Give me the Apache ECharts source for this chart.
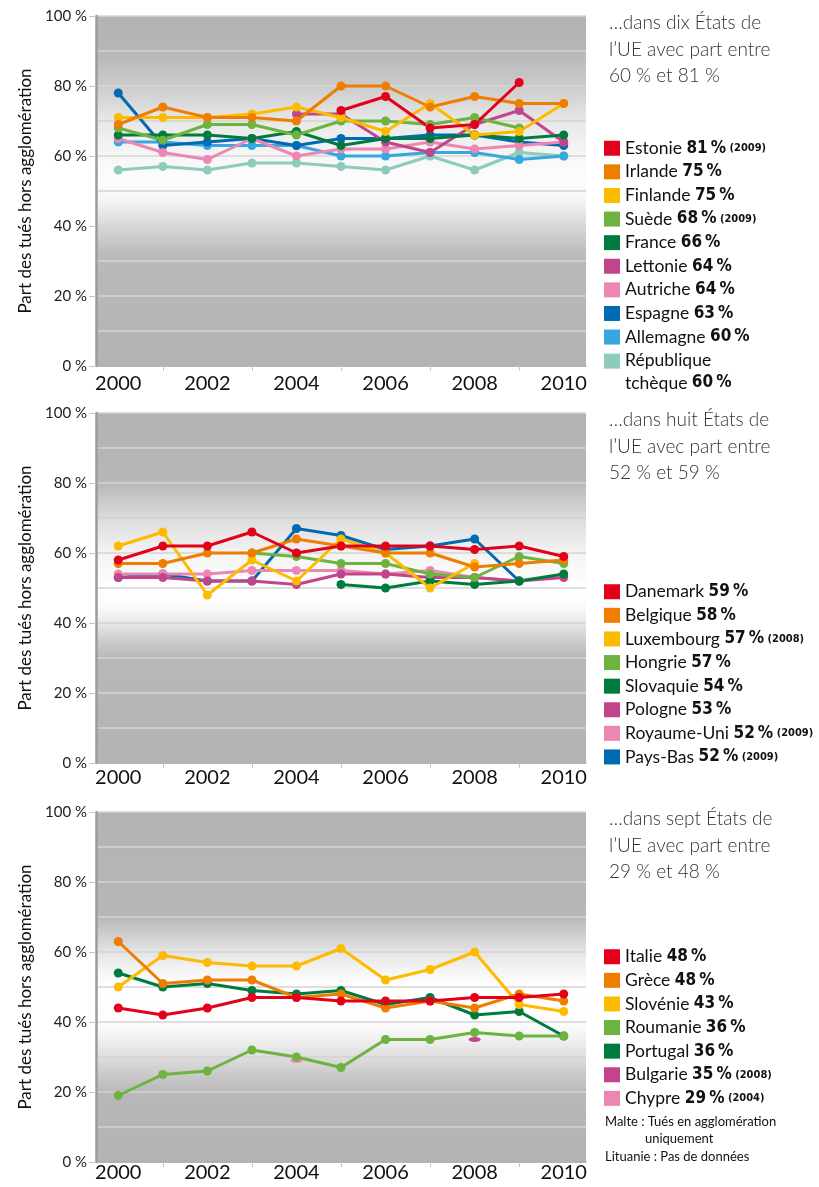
<!DOCTYPE html>
<html>
<head>
<meta charset="utf-8">
<script src="https://cdn.jsdelivr.net/npm/echarts@6/dist/echarts.min.js"></script>
<style>
  html, body { margin: 0; padding: 0; background: #fff; }
  #main { width: 819px; height: 1187px; }
</style>
</head>
<body>
<div id="main"></div>
<script>
const years = ['2000', '2001', '2002', '2003', '2004', '2005', '2006', '2007', '2008', '2009', '2010']

// panneau 1 : part entre 60 % et 81 %
const p1Names = ['Estonie', 'Irlande', 'Finlande', 'Suède', 'France', 'Lettonie', 'Autriche', 'Espagne', 'Allemagne', 'République tchèque']
const p1Values = ['81 %', '75 %', '75 %', '68 %', '66 %', '64 %', '64 %', '63 %', '60 %', '60 %']
const p1Notes = ['(2009)', '', '', '(2009)', '', '', '', '', '', '']
const estonie = [null, null, null, null, null, 73, 77, 68, 69, 81, null]
const irlande = [69, 74, 71, 71, 70, 80, 80, 74, 77, 75, 75]
const finlande = [71, 71, 71, 72, 74, 71, 67, 75, 66, 67, 75]
const suede = [68, 64.5, 69, 69, 66, 70, 70, 69, 71, 68, null]
const france = [66, 66, 66, 65, 67, 63, 65, 65, 66, 65, 66]
const lettonie = [null, null, null, null, 72, 72, 64, 61, 69, 73, 64]
const autriche = [65, 61, 59, 65, 60, 62, 62, 64, 62, 63, 64]
const espagne = [78, 63, 64, 65, 63, 65, 65, 66, 66, 64, 63]
const allemagne = [64, 64, 63, 63, 63, 60, 60, 61, 61, 59, 60]
const tcheque = [56, 57, 56, 58, 58, 57, 56, 60, 56, 61, 60]

// panneau 2 : part entre 52 % et 59 %
const p2Names = ['Danemark', 'Belgique', 'Luxembourg', 'Hongrie', 'Slovaquie', 'Pologne', 'Royaume-Uni', 'Pays-Bas']
const p2Values = ['59 %', '58 %', '57 %', '57 %', '54 %', '53 %', '52 %', '52 %']
const p2Notes = ['', '', '(2008)', '', '', '', '(2009)', '(2009)']
const danemark = [58, 62, 62, 66, 60, 62, 62, 62, 61, 62, 59]
const belgique = [57, 57, 60, 60, 64, 62, 60, 60, 56, 57, 58]
const luxembourg = [62, 66, 48, 58, 52, 64, 60, 50, 57, null, null]
const hongrie = [null, null, null, 60, 59, 57, 57, 54, 53, 59, 57]
const slovaquie = [null, null, null, null, null, 51, 50, 52, 51, 52, 54]
const pologne = [53, 53, 52, 52, 51, 54, 54, 53, 53, 52, 53]
const royaumeUni = [54, 54, 54, 55, 55, 55, 54, 55, 53, 52, null]
const paysBas = [53, 54, 52, 52, 67, 65, 61, 62, 64, 52, null]

// panneau 3 : part entre 29 % et 48 %
const p3Names = ['Italie', 'Grèce', 'Slovénie', 'Roumanie', 'Portugal', 'Bulgarie', 'Chypre']
const p3Values = ['48 %', '48 %', '43 %', '36 %', '36 %', '35 %', '29 %']
const p3Notes = ['', '', '', '', '', '(2008)', '(2004)']
const italie = [44, 42, 44, 47, 47, 46, 46, 46, 47, 47, 48]
const grece = [63, 51, 52, 52, 47, 48, 44, 46, 44, 48, 46]
const slovenie = [50, 59, 57, 56, 56, 61, 52, 55, 60, 45, 43]
const roumanie = [19, 25, 26, 32, 30, 27, 35, 35, 37, 36, 36]
const portugal = [54, 50, 51, 49, 48, 49, 45, 47, 42, 43, 36]
const bulgarie = [null, null, null, null, null, null, null, null, 35, null, null]
const chypre = [null, null, null, null, 29, null, null, null, null, null, null]

const p1Data = [estonie, irlande, finlande, suede, france, lettonie, autriche, espagne, allemagne, tcheque]
const p2Data = [danemark, belgique, luxembourg, hongrie, slovaquie, pologne, royaumeUni, paysBas]
const p3Data = [italie, grece, slovenie, roumanie, portugal, bulgarie, chypre]

const p1Colors = ['#e3001b', '#ef7d00', '#fdbb00', '#6cb33f', '#007b3e', '#c2448b', '#ec87b4', '#006ab3', '#35a8e0', '#8dcbbd']
const p2Colors = ['#e3001b', '#ef7d00', '#fdbb00', '#6cb33f', '#007b3e', '#c2448b', '#ec87b4', '#006ab3']
const p3Colors = ['#e3001b', '#ef7d00', '#fdbb00', '#6cb33f', '#007b3e', '#c2448b', '#ec87b4']

const titles = [
    '…dans dix États de\nl’UE avec part entre\n60 % et 81 %',
    '…dans huit États de\nl’UE avec part entre\n52 % et 59 %',
    '…dans sept États de\nl’UE avec part entre\n29 % et 48 %'
]

const FONT = 'Lato, "Noto Sans", sans-serif'
const NARROW = '"Liberation Sans Narrow", "DejaVu Sans Condensed", sans-serif'

const gridTops = [16, 413, 812]
const labelMargins = [8, 5, 1]

// fond gris / blanc : niveau de gris selon la hauteur (0 = haut du panneau)
const bgStops = [
    [[0, 179], [0.1, 182], [0.2, 203], [0.3, 232], [0.4, 246], [0.47, 253], [0.53, 244], [0.6, 216], [0.68, 186], [1, 179]],
    [[0, 179], [0.2, 183], [0.3, 220], [0.4, 243], [0.5, 255], [0.55, 252], [0.6, 232], [0.65, 205], [0.7, 184], [1, 179]],
    [[0, 179], [0.3, 183], [0.4, 228], [0.45, 244], [0.5, 255], [0.6, 253], [0.65, 240], [0.7, 222], [0.75, 202], [0.8, 184], [1, 179]]
]

const panels = [
    { names: p1Names, values: p1Values, notes: p1Notes, data: p1Data, colors: p1Colors },
    { names: p2Names, values: p2Values, notes: p2Notes, data: p2Data, colors: p2Colors },
    { names: p3Names, values: p3Values, notes: p3Notes, data: p3Data, colors: p3Colors }
]

const legendText = {}
panels.forEach(p => {
    p.names.forEach((n, i) => {
        const tail = '{b|' + p.values[i].replace(' ', '\u2009') + '}' + (p.notes[i] ? '{s| ' + p.notes[i] + '}' : '')
        if (n === 'République tchèque') {
            // deux lignes, le carré reste en face de la première
            legendText[n] = '{n1|République}\n{n2|tchèque }' + tail.replace('{b|', '{b2|')
        } else {
            legendText[n] = '{n|' + n + ' }' + tail
        }
    })
})

const grid = [], xAxis = [], yAxis = [], series = [], legend = []
const legendTops = [137.5, 581, 946]

panels.forEach((p, k) => {
    grid.push({
        left: 96, top: gridTops[k], width: 490, height: 350,
        show: true, borderWidth: 0,
        backgroundColor: {
            type: 'linear', x: 0, y: 0, x2: 0, y2: 1,
            colorStops: bgStops[k].map(s => ({ offset: s[0], color: 'rgb(' + s[1] + ',' + s[1] + ',' + s[1] + ')' }))
        }
    })
    xAxis.push({
        type: 'category', gridIndex: k, data: years, boundaryGap: true,
        axisLine: { lineStyle: { color: '#a8a8a8', width: 1.5 } },
        axisTick: { show: true, alignWithLabel: true, length: 5, interval: (i) => i % 2 === 1, lineStyle: { color: '#c8c8c8' } },
        axisLabel: { interval: 1, fontSize: 20, color: '#111', fontFamily: FONT, margin: labelMargins[k] },
        splitLine: { show: false }
    })
    yAxis.push({
        type: 'value', gridIndex: k, min: 0, max: 100, interval: 20,
        name: 'Part des tués hors agglomération', nameLocation: 'middle', nameGap: 60,
        nameTextStyle: { fontSize: 17, color: '#111', fontFamily: FONT },
        axisLine: { show: true, lineStyle: { color: '#9c9c9c', width: 2.5 } },
        axisTick: { show: true, length: 7, lineStyle: { color: '#c4c4c4' } },
        axisLabel: { fontSize: 15, color: '#222', fontFamily: FONT, margin: 9, formatter: v => v + ' %' },
        splitLine: { show: true, lineStyle: { color: '#d4d4d4', width: 1.5 } },
        minorTick: { show: true, splitNumber: 2, length: 0 },
        minorSplitLine: { show: true, lineStyle: { color: '#d4d4d4', width: 1.5 } }
    })
    // les premiers pays du classement sont dessinés au-dessus
    for (let i = p.names.length - 1; i >= 0; i--) {
        const single = p.data[i].filter(v => v !== null).length === 1
        series.push({
            name: p.names[i], type: 'line', xAxisIndex: k, yAxisIndex: k,
            data: p.data[i], symbol: 'circle', symbolSize: single ? [12, 5] : 9,
            showSymbol: true, connectNulls: false,
            lineStyle: { color: p.colors[i], width: 3 },
            itemStyle: { color: p.colors[i] },
            emphasis: { disabled: true }
        })
    }
    legend.push({
        orient: 'vertical', left: 604, top: legendTops[k], padding: 0,
        data: p.names.map((n, i) => ({ name: n, itemStyle: { color: p.colors[i] } })),
        icon: 'rect', itemWidth: 16, itemHeight: 15, itemGap: 2.1,
        selectedMode: false,
        formatter: n => legendText[n],
        textStyle: {
            color: '#111', lineHeight: 21.5,
            rich: {
                n: { fontSize: 17.5, fontFamily: FONT, color: '#111', lineHeight: 21.5 },
                b: { fontSize: 17, fontFamily: NARROW, fontWeight: 'bold', color: '#111', lineHeight: 21.5 },
                s: { fontSize: 11, fontFamily: NARROW, fontWeight: 'bold', color: '#111', lineHeight: 1 },
                n1: { fontSize: 17.5, fontFamily: FONT, color: '#111', lineHeight: 21.5 },
                n2: { fontSize: 17.5, fontFamily: FONT, color: '#111', lineHeight: 1, height: 23, verticalAlign: 'top' },
                b2: { fontSize: 17, fontFamily: NARROW, fontWeight: 'bold', color: '#111', lineHeight: 1, height: 23, verticalAlign: 'top' }
            }
        }
    })
})

const graphic = titles.map((t, k) => ({
    type: 'text', left: 609, top: gridTops[k] - 6,
    style: { text: t, fontSize: 19, fontWeight: 300, fontFamily: FONT, fill: '#333', lineHeight: 26.5 }
}))
graphic.push({
    type: 'text', left: 605, top: 1113,
    style: {
        text: 'Malte : Tués en agglomération\n            uniquement\nLituanie : Pas de données',
        fontSize: 13, fontFamily: FONT, fill: '#111', lineHeight: 17.5
    }
})

const myChart = echarts.init(document.getElementById('main'), null, { width: 819, height: 1187 })
const option = {
    animation: false,
    backgroundColor: '#fff',
    textStyle: { fontFamily: FONT },
    grid, xAxis, yAxis, series, legend, graphic
}
option && myChart.setOption(option)
</script>
</body>
</html>
